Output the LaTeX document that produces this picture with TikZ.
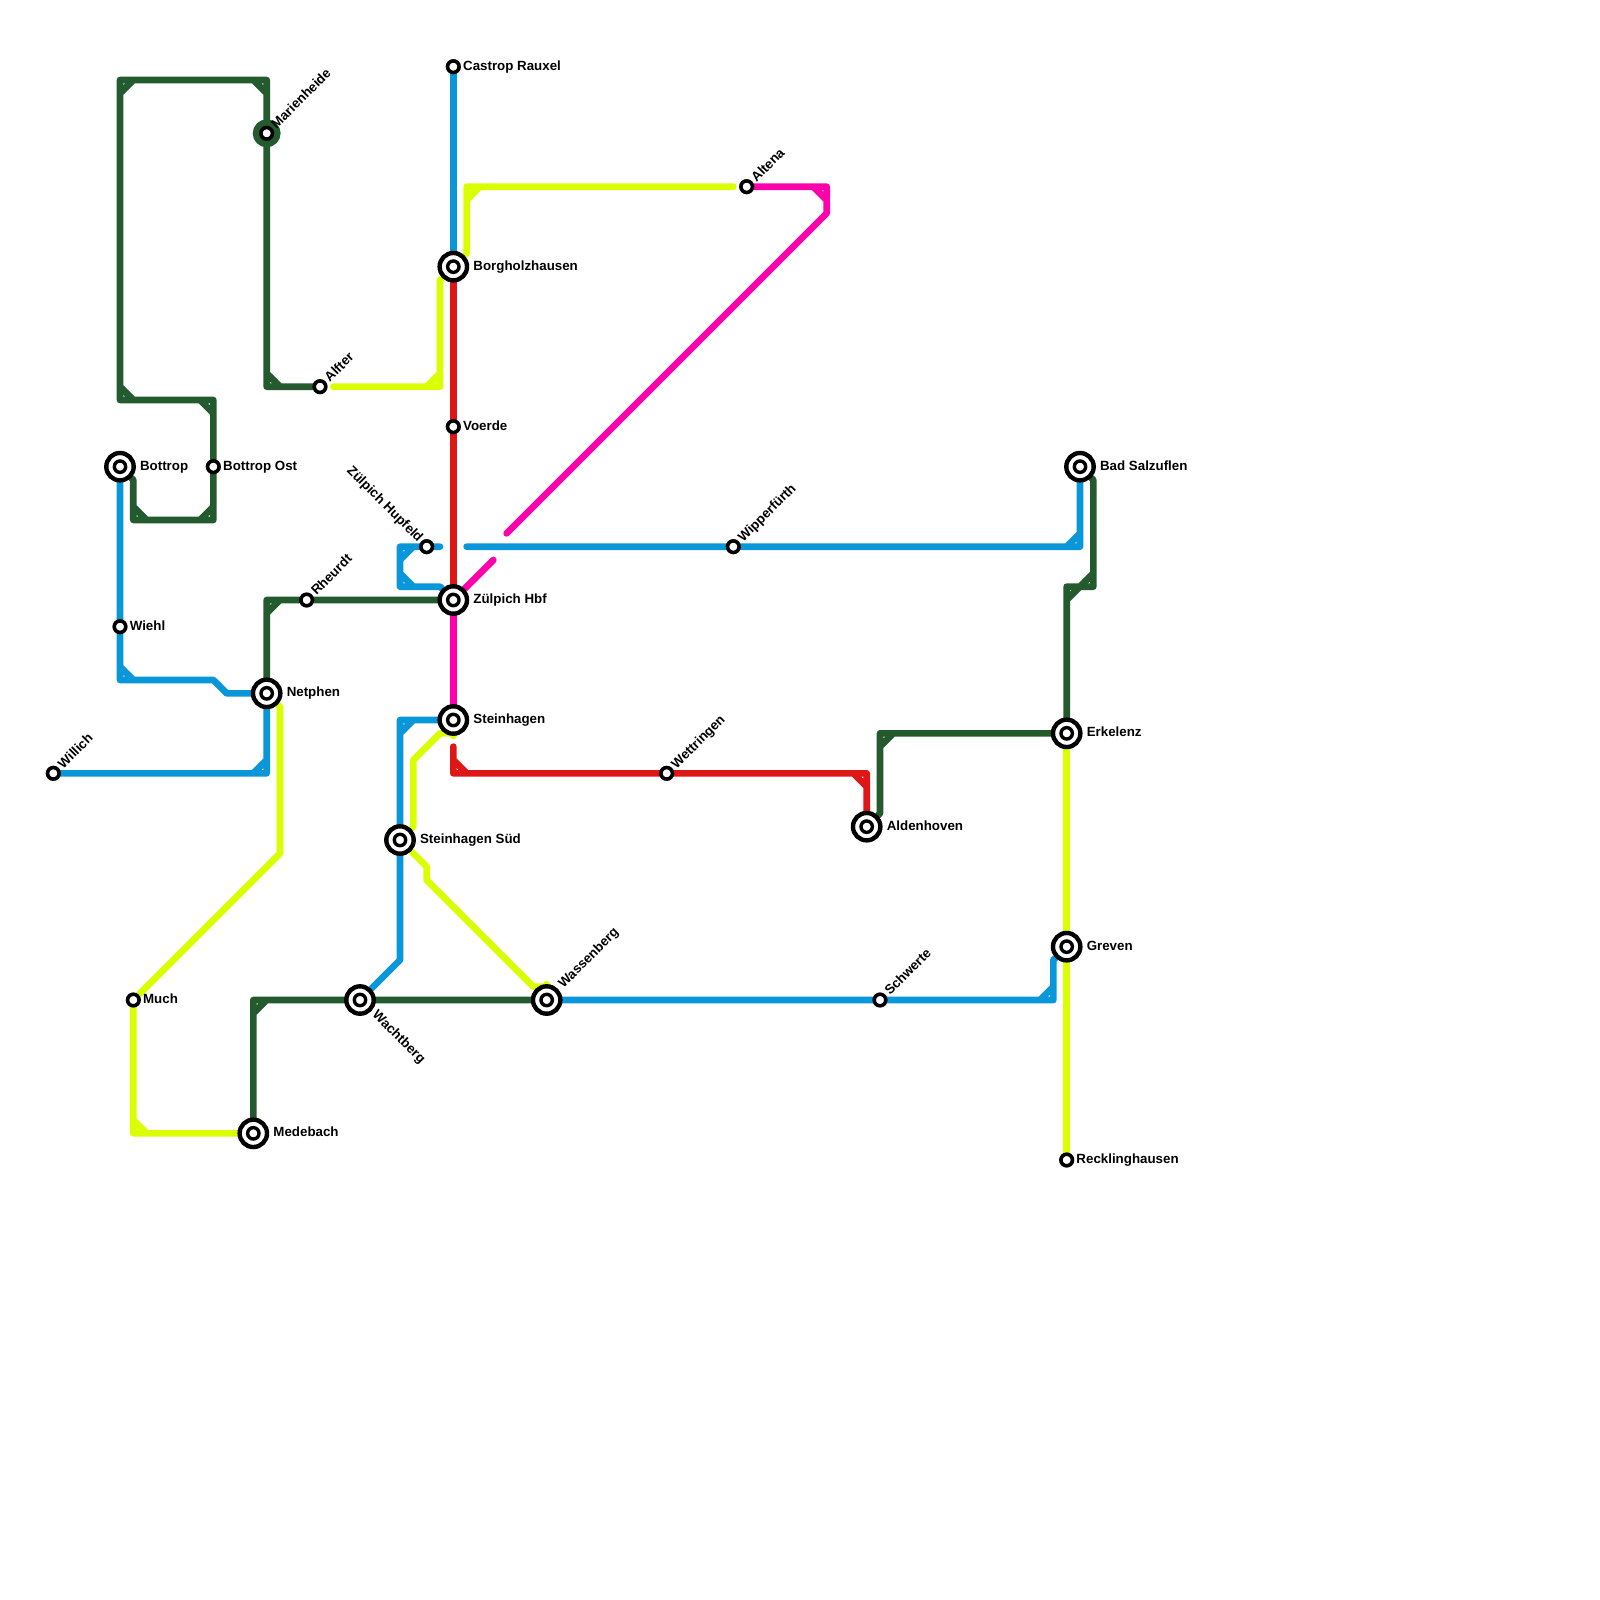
\documentclass[tikz,border=0pt]{standalone}
\usepackage{fontspec}
\setmainfont{Liberation Sans}
\usetikzlibrary{positioning, backgrounds}

\definecolor{routegreen}{HTML}{235B2F}
\definecolor{routeblue}{HTML}{0A97D9}
\definecolor{routered}{HTML}{DE1616}
\definecolor{routepink}{HTML}{FF00AA}
\definecolor{routelime}{HTML}{D9FF00}

\begin{document}
\begin{tikzpicture}[
    x=13.3333pt,
    y=-13.3333pt,
    station/.style={
        draw=black,
        circle,
        line width=3.6pt,
        minimum size=11.6pt,
        inner sep=0pt,
        fill=white
    },
    interchange/.style={
        draw=black,
        circle,
        line width=4.4pt,
        minimum size=27.4pt,
        inner sep=0pt,
        fill=white,
        path picture={
            \draw[line width=3.4pt] (path picture bounding box.center) circle (5.7pt);
        }
    },
    terminus/.style={
        station,
        preaction={draw=routegreen, line width=16pt}
    },
    caption/.style={
        font=\fontsize{13.33}{15}\selectfont\bfseries,
        inner sep=0pt,
        text height=10pt,
        text depth=3pt,
        text=black
    },
    route/.style={
        line width=6.67pt,
        line cap=round,
        line join=round
    },
    green/.style={route, draw=routegreen},
    blue/.style={route, draw=routeblue},
    red/.style={route, draw=routered},
    pink/.style={route, draw=routepink},
    lime/.style={route, draw=routelime}
]

\useasboundingbox (0,0) rectangle (120,120);

% Stations
\node[station] (castrop) at (34,5) {};
\node[interchange] (borgholz) at (34,20) {};
\node[station] (voerde) at (34,32) {};
\node[station] (hupfeld) at (32,41) {};
\node[interchange] (zuelpich) at (34,45) {};
\node[interchange] (steinhagen) at (34,54) {};
\node[interchange] (steinsued) at (30,63) {};
\node[interchange] (wachtberg) at (27,75) {};
\node[interchange] (wassenberg) at (41,75) {};
\node[station] (schwerte) at (66,75) {};
\node[interchange] (greven) at (80,71) {};
\node[station] (reckling) at (80,87) {};
\node[interchange] (erkelenz) at (80,55) {};
\node[interchange] (aldenhoven) at (65,62) {};
\node[station] (wettringen) at (50,58) {};
\node[station] (wipper) at (55,41) {};
\node[station] (altena) at (56,14) {};
\node[interchange] (salzuflen) at (81,35) {};
\node[interchange] (bottrop) at (9,35) {};
\node[station] (bottropost) at (16,35) {};
\node[station] (wiehl) at (9,47) {};
\node[station] (willich) at (4,58) {};
\node[interchange] (netphen) at (20,52) {};
\node[station] (rheurdt) at (23,45) {};
\node[station] (alfter) at (24,29) {};
\node[terminus] (marienheide) at (20,10) {};
\node[station] (much) at (10,75) {};
\node[interchange] (medebach) at (19,85) {};

% Labels
\node[caption, right=2pt of castrop] (castroplabel) {Castrop Rauxel};
\node[caption, right=4pt of borgholz] (borgholzlabel) {Borgholzhausen};
\node[caption, right=2pt of voerde] (voerdelabel) {Voerde};
\node[caption, right=4pt of zuelpich] (zuelpichlabel) {Zülpich Hbf};
\node[caption, right=4pt of steinhagen] (steinhagenlabel) {Steinhagen};
\node[caption, right=4pt of steinsued] (steinsuedlabel) {Steinhagen Süd};
\node[caption, right=4pt of greven] (grevenlabel) {Greven};
\node[caption, right=2pt of reckling] (recklinglabel) {Recklinghausen};
\node[caption, right=4pt of erkelenz] (erkelenzlabel) {Erkelenz};
\node[caption, right=4pt of aldenhoven] (aldenhovenlabel) {Aldenhoven};
\node[caption, right=4pt of salzuflen] (salzuflenlabel) {Bad Salzuflen};
\node[caption, right=4pt of bottrop] (bottroplabel) {Bottrop};
\node[caption, right=2pt of bottropost] (bottropostlabel) {Bottrop Ost};
\node[caption, right=2pt of wiehl] (wiehllabel) {Wiehl};
\node[caption, right=4pt of netphen] (netphenlabel) {Netphen};
\node[caption, right=2pt of much] (muchlabel) {Much};
\node[caption, right=4pt of medebach] (medebachlabel) {Medebach};

% Labels on the diagonal
\node[caption, rotate=45, above right=1pt and 2pt of marienheide, anchor=west] (marienheidelabel) {Marienheide};
\node[caption, rotate=45, above right=1pt and 2pt of alfter, anchor=west] (alfterlabel) {Alfter};
\node[caption, rotate=45, above right=1pt and 2pt of rheurdt, anchor=west] (rheurdtlabel) {Rheurdt};
\node[caption, rotate=45, above right=1pt and 2pt of willich, anchor=west] (willichlabel) {Willich};
\node[caption, rotate=45, above right=1pt and 2pt of altena, anchor=west] (altenalabel) {Altena};
\node[caption, rotate=45, above right=1pt and 2pt of wipper, anchor=west] (wipperlabel) {Wipperfürth};
\node[caption, rotate=45, above right=1pt and 2pt of wettringen, anchor=west] (wettringenlabel) {Wettringen};
\node[caption, rotate=45, above right=1pt and 2pt of schwerte, anchor=west] (schwertelabel) {Schwerte};
\node[caption, rotate=45, above right=2.5pt and 3pt of wassenberg, anchor=west] (wassenberglabel) {Wassenberg};
\node[caption, rotate=-45, below right=2pt and 3pt of wachtberg, anchor=west] (wachtberglabel) {Wachtberg};
\node[caption, rotate=-45, above left=1pt and 1pt of hupfeld, anchor=east] (hupfeldlabel) {Zülpich Hupfeld};

\begin{scope}[on background layer]
\fill[white] (0,0) rectangle (120,120);

% Lime
\draw[lime] (borgholz) -- (35,19) -- (35,14) -- (55,14) (35,15) -- (36,14);
\draw[lime] (borgholz) -- (33,21) -- (33,29) -- (25,29) (33,28) -- (32,29);
\draw[lime] (steinhagen) -- (34,55) -- (33,55) -- (31,57) -- (31,62) -- (steinsued);
\draw[lime] (steinsued) -- (32,65) -- (32,66) -- (40,74) -- (41,74) -- (wassenberg);
\draw[lime] (netphen) -- (21,53) -- (21,64) -- (much) -- (10,85) -- (medebach) (10,84) -- (11,85);
\draw[lime] (erkelenz) -- (greven) -- (reckling);

% Pink
\draw[pink] (zuelpich) -- (steinhagen);
\draw[pink] (zuelpich) -- (37,42);
\draw[pink] (38,40) -- (62,16) -- (62,14) -- (altena) (61,14) -- (62,15);

% Red
\draw[red] (borgholz) -- (voerde) -- (zuelpich);
\draw[red] (34,56) -- (34,58) -- (wettringen) -- (65,58) -- (aldenhoven) (34,57) -- (35,58) (64,58) -- (65,59);

% Blue
\draw[blue] (castrop) -- (borgholz);
\draw[blue] (willich) -- (20,58) -- (netphen) -- (17,52) -- (16,51) -- (9,51) -- (wiehl) -- (bottrop) (19,58) -- (20,57) (9,50) -- (10,51);
\draw[blue] (zuelpich) -- (33,44) -- (30,44) -- (30,41) -- (33,41) (30,42) -- (31,41) (30,43) -- (31,44);
\draw[blue] (35,41) -- (wipper) -- (81,41) -- (salzuflen) (80,41) -- (81,40);
\draw[blue] (steinhagen) -- (30,54) -- (steinsued) -- (30,72) -- (wachtberg) (30,55) -- (31,54);
\draw[blue] (wassenberg) -- (schwerte) -- (79,75) -- (79,72) -- (greven) (78,75) -- (79,74);

% Green
\draw[green] (medebach) -- (19,75) -- (wachtberg) -- (wassenberg) (19,76) -- (20,75);
\draw[green] (aldenhoven) -- (66,61) -- (66,55) -- (erkelenz) -- (80,44) -- (82,44) -- (82,36) -- (salzuflen) (66,56) -- (67,55) (80,45) -- (81,44) (81,44) -- (82,43);
\draw[green] (netphen) -- (20,45) -- (rheurdt) -- (zuelpich) (20,46) -- (21,45);
\draw[green] (bottrop) -- (10,36) -- (10,39) -- (16,39) -- (bottropost) -- (16,30) -- (9,30) -- (9,6) -- (20,6) -- (marienheide) -- (20,29) -- (alfter) (10,38) -- (11,39) (15,39) -- (16,38) (16,31) -- (15,30) (10,30) -- (9,29) (9,7) -- (10,6) (19,6) -- (20,7) (20,28) -- (21,29);
\end{scope}

\end{tikzpicture}
\end{document}
